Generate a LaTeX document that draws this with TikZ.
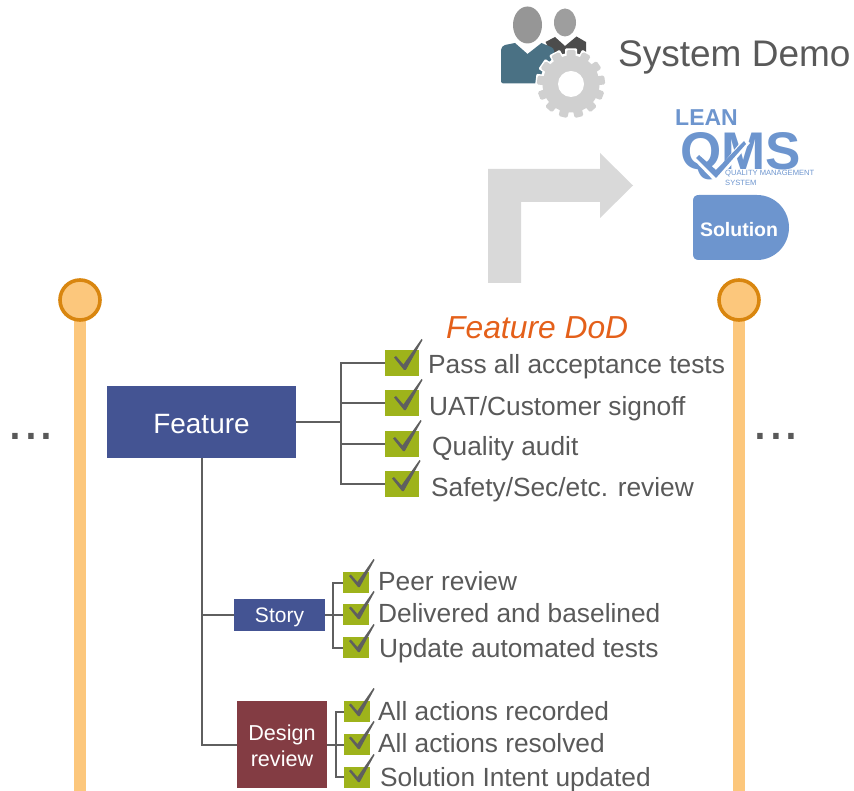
\documentclass[tikz,border=0pt]{standalone}
\usepackage{fontspec}
\setmainfont{Liberation Sans}
\definecolor{txt}{HTML}{595959}
\definecolor{navy}{HTML}{445493}
\definecolor{wine}{HTML}{833C43}
\definecolor{olive}{HTML}{9EB31B}
\definecolor{line}{HTML}{5F5F5F}
\definecolor{bar}{HTML}{FCC77C}
\definecolor{ring}{HTML}{D9860F}
\definecolor{lgrey}{HTML}{D9D9D9}
\definecolor{qms}{HTML}{6D95CE}
\definecolor{teal}{HTML}{4A7184}
\definecolor{dodor}{HTML}{E4601A}
\definecolor{gearc}{HTML}{D0D0D0}
\tikzset{
 conn/.style={draw=line,line width=2pt},
 lab/.style={anchor=west,text=txt,inner sep=0pt,font=\fontsize{26.3}{28}\selectfont},
 bigbox/.style={fill=olive,minimum width=34pt,minimum height=26pt,inner sep=0pt},
 smallbox/.style={fill=olive,minimum width=26pt,minimum height=21pt,inner sep=0pt},
 box/.style={text=white,inner sep=0pt,align=center},
 dotlab/.style={text=txt,inner sep=0pt,font=\fontsize{57}{60}\selectfont},
 tick/.pic={\fill[line] (0,0) -- (-10,-12.5) -- (-8,-14) -- (-0.6,-5.5) -- (17.5,-31) -- (18.5,-30) -- (1.8,0) -- cycle;},
 stick/.pic={\fill[line] (0,0) -- (-9,-11) -- (-7.2,-12.5) -- (-0.6,-5) -- (15.5,-28) -- (16.5,-27) -- (1.8,0) -- cycle;}
}
\begin{document}
\begin{tikzpicture}[x=1pt,y=-1pt]
\useasboundingbox (0,0) rectangle (854,791);
% timelines
\fill[bar] (74,300) rectangle (85.5,791);
\fill[bar] (733,300) rectangle (744.5,791);
\node[circle,fill=bar,draw=ring,line width=3.6pt,minimum size=40pt,inner sep=0pt] (tl) at (80,300) {};
\node[circle,fill=bar,draw=ring,line width=3.6pt,minimum size=40pt,inner sep=0pt] (tr) at (739,300) {};
\node[dotlab] (dl) at (31,436) {...};
\node[dotlab] (dr) at (776,436) {...};
% arrow
\fill[lgrey] (488,283) -- (488,169) -- (600,169) -- (600,153) -- (633,185.5) -- (600,218) -- (600,202) -- (521,202) -- (521,283) -- cycle;
% people
\fill[black!41] (527.5,25) ellipse (14.5 and 18.5);
\fill[black!38] (565,22.5) ellipse (11 and 14);
\fill[black!70] (545.5,42) -- (555,37) -- (565,46) -- (576.5,36.5) -- (586,42) -- (586,62) -- (560,70) -- cycle;
\fill[teal] (501,82) -- (501,50) .. controls (501,47) and (503,46) .. (505,45) -- (515,43) -- (527.5,54) -- (541.5,43) -- (551,47) .. controls (553,48) and (554,49) .. (554,51) -- (556,62) -- (540,83.5) -- (503,83.5) -- cycle;
% gear
\fill[white] (571,84) circle (31);
\foreach \a in {0,27.7,...,340}{\fill[white,rotate around={\a:(571,84)},rounded corners=1pt] (565,48.5) rectangle (577,60);}
\fill[gearc] (571,84) circle (28.5);
\foreach \a in {0,27.7,...,340}{\fill[gearc,rotate around={\a:(571,84)},rounded corners=1.5pt] (566.5,50) rectangle (575.5,60);}
\fill[white] (571,84) circle (13);
\node[anchor=west,text=txt,inner sep=0pt,font=\fontsize{37}{40}\selectfont] (sd) at (618,57) {System Demo};
% logo
\node[anchor=west,text=qms,inner sep=0pt,font=\fontsize{23}{24}\bfseries\selectfont] (lean) at (675,118) {LEAN};
\node[anchor=west,text=qms,inner sep=0pt,font=\fontsize{53}{54}\bfseries\selectfont] (q) at (680,156) {QMS};
\fill[white] (696,153) -- (716,172) -- (744,138) -- (750,143) -- (716,183) -- (692,158) -- cycle;
\fill[qms] (699,155) -- (716,170) -- (744,141) -- (746,144) -- (716,178) -- (696,158) -- cycle;
\node[anchor=north west,text=qms,inner sep=0pt,align=left,font=\fontsize{7.6}{9.5}\selectfont] (qs) at (725,170) {QUALITY MANAGEMENT\\SYSTEM};
\fill[qms] (699,195) -- (757,195) arc (-90:90:32 and 32.5) -- (699,260) .. controls (695,260) and (693,258) .. (693,254) -- (693,201) .. controls (693,197) and (695,195) .. (699,195) -- cycle;
\node[text=white,inner sep=0pt,font=\fontsize{19.5}{20}\bfseries\selectfont] (sol) at (739,229.5) {Solution};
% title
\node[anchor=west,text=dodor,inner sep=0pt,font=\fontsize{31.8}{34}\itshape\selectfont] (dod) at (446,328) {Feature DoD};
% Feature
\node[box,fill=navy,minimum width=189pt,minimum height=72pt,font=\fontsize{27.9}{30}\selectfont] (feat) at (201.5,422) {\rule{0pt}{24pt}Feature};
\node[box,fill=navy,minimum width=91pt,minimum height=32pt,font=\fontsize{21}{24}\selectfont] (story) at (279.5,615) {\rule{0pt}{19pt}Story};
\node[box,fill=wine,minimum width=90pt,minimum height=87pt,font=\fontsize{21.6}{26}\selectfont] (des) at (282,744.5) {\rule{0pt}{18pt}Design\\review};
% big boxes
\node[bigbox] (a1) at (402,363) {};
\node[bigbox] (a2) at (402,403) {};
\node[bigbox] (a3) at (402,444) {};
\node[bigbox] (a4) at (402,484) {};
\node[smallbox] (b1) at (356,582.5) {};
\node[smallbox] (b2) at (356,614.5) {};
\node[smallbox] (b3) at (356,647.5) {};
\node[smallbox] (c1) at (357,711.5) {};
\node[smallbox] (c2) at (357,744.5) {};
\node[smallbox] (c3) at (357,777) {};
% connectors
\coordinate (fj) at (340.5,422);
\draw[conn] (feat.east) -- (fj);
\draw[conn] (a1.west) -| (fj) |- (a4.west);
\draw[conn] (a2.west) -- (a2.west -| fj);
\draw[conn] (a3.west) -- (a3.west -| fj);
\coordinate (sj) at (333,614.5);
\draw[conn] (story.east |- sj) -- (b2.west);
\draw[conn] (b1.west) -| (sj) |- (b3.west);
\coordinate (dj) at (335.5,744.5);
\draw[conn] (des.east |- dj) -- (c2.west);
\draw[conn] (c1.west) -| (dj) |- (c3.west);
\draw[conn] (feat.south) |- (des.west |- dj);
\draw[conn] (story.west) -- (story.west -| feat.south);
% ticks
\pic at (404,370) {tick};
\pic at (404,410) {tick};
\pic at (403,451) {tick};
\pic at (402,491) {tick};
\pic at (358,587) {stick};
\pic at (358,619) {stick};
\pic at (358,652) {stick};
\pic at (358,716) {stick};
\pic at (358,749) {stick};
\pic at (358,782) {stick};
% labels
\node[lab] (t1) at (428,367) {Pass all acceptance tests};
\node[lab] (t2) at (429,409) {UAT/Customer signoff};
\node[lab] (t3) at (432,449) {Quality audit};
\node[lab] (t4) at (431,490) {Safety/Sec/etc. review};
\node[lab] (u1) at (378,581) {Peer review};
\node[lab] (u2) at (378,613) {Delivered and baselined};
\node[lab] (u3) at (379,651) {Update automated tests};
\node[lab] (v1) at (378,711) {All actions recorded};
\node[lab] (v2) at (378,743) {All actions resolved};
\node[lab] (v3) at (380,780) {Solution Intent updated};
\end{tikzpicture}
\end{document}
